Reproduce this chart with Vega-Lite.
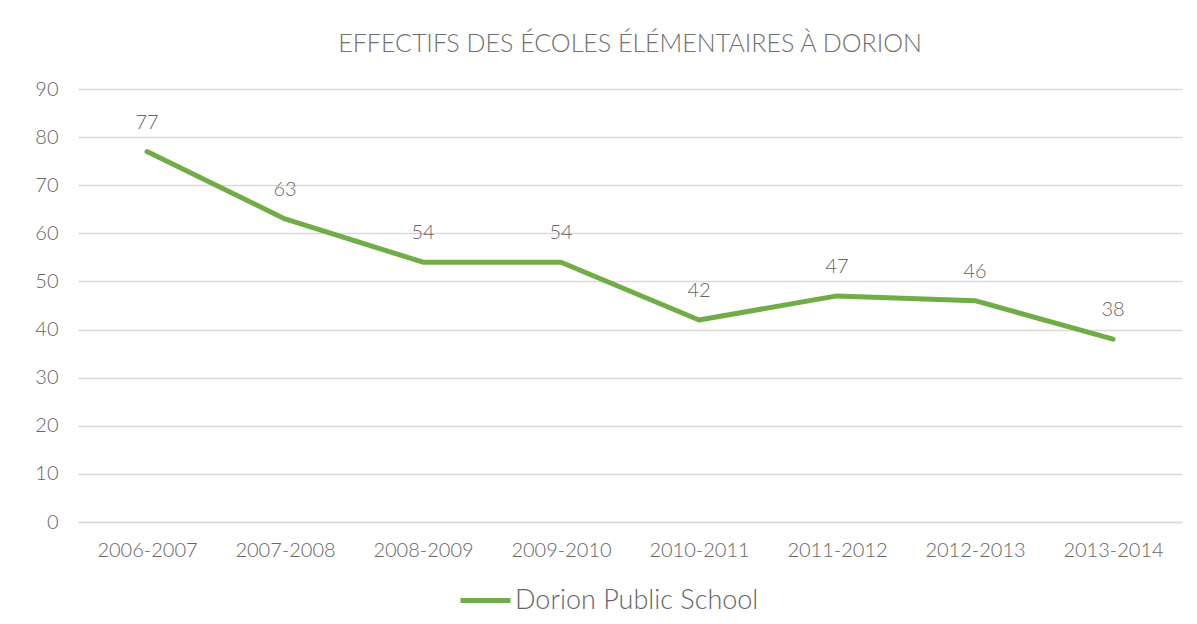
{
  "$schema": "https://vega.github.io/schema/vega-lite/v6.json",
  "width": 1104,
  "height": 433,
  "autosize": {"type": "none"},
  "padding": {"left": 78, "top": 89, "right": 15, "bottom": 102},
  "background": "white",
  "config": {
    "font": "Lato",
    "view": {"stroke": null}
  },
  "title": {
    "text": "EFFECTIFS DES ÉCOLES ÉLÉMENTAIRES À DORION",
    "font": "Lato",
    "fontSize": 25,
    "fontWeight": 300,
    "color": "#707070",
    "anchor": "middle",
    "offset": 22
  },
  "data": {
    "values": [
      {"year": "2006-2007", "value": 77, "school": "Dorion Public School"},
      {"year": "2007-2008", "value": 63, "school": "Dorion Public School"},
      {"year": "2008-2009", "value": 54, "school": "Dorion Public School"},
      {"year": "2009-2010", "value": 54, "school": "Dorion Public School"},
      {"year": "2010-2011", "value": 42, "school": "Dorion Public School"},
      {"year": "2011-2012", "value": 47, "school": "Dorion Public School"},
      {"year": "2012-2013", "value": 46, "school": "Dorion Public School"},
      {"year": "2013-2014", "value": 38, "school": "Dorion Public School"}
    ]
  },
  "encoding": {
    "x": {
      "field": "year",
      "type": "ordinal",
      "scale": {"type": "point", "padding": 0.5},
      "axis": {
        "title": null,
        "labelAngle": 0,
        "labelFontSize": 20,
        "labelFontWeight": 300,
        "labelColor": "#666666",
        "labelPadding": 18,
        "ticks": false,
        "domainColor": "#d9d9d9",
        "domainWidth": 1.5,
        "grid": false
      }
    },
    "y": {
      "field": "value",
      "type": "quantitative",
      "scale": {"domain": [0, 90]},
      "axis": {
        "title": null,
        "values": [0, 10, 20, 30, 40, 50, 60, 70, 80, 90],
        "labelFontSize": 20,
        "labelFontWeight": 300,
        "labelColor": "#666666",
        "labelPadding": 20,
        "ticks": false,
        "domain": false,
        "gridColor": "#d9d9d9",
        "gridWidth": 1.5
      }
    }
  },
  "layer": [
    {
      "mark": {"type": "line", "strokeWidth": 5, "strokeCap": "round", "strokeJoin": "round"},
      "encoding": {
        "color": {
          "field": "school",
          "type": "nominal",
          "scale": {"range": ["#70AD47"]},
          "legend": {
            "title": null,
            "orient": "none",
            "legendX": 380,
            "legendY": 484,
            "direction": "horizontal",
            "symbolType": "stroke",
            "symbolSize": 2500,
            "symbolStrokeWidth": 5,
            "labelFontSize": 27,
            "labelFontWeight": 300,
            "labelColor": "#666666",
            "labelOffset": 2,
            "labelLimit": 0
          }
        }
      }
    },
    {
      "mark": {"type": "text", "dy": -29, "fontSize": 20, "fontWeight": 300, "color": "#666666"},
      "encoding": {
        "text": {"field": "value", "type": "quantitative"}
      }
    }
  ]
}
